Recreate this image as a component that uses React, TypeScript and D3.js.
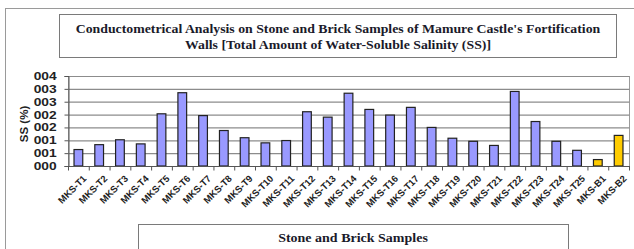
import React, { useRef, useEffect } from 'react';
import * as d3 from 'd3';

const categories = [
  'MKS-T1', 'MKS-T2', 'MKS-T3', 'MKS-T4', 'MKS-T5', 'MKS-T6', 'MKS-T7', 'MKS-T8', 'MKS-T9',
  'MKS-T10', 'MKS-T11', 'MKS-T12', 'MKS-T13', 'MKS-T14', 'MKS-T15', 'MKS-T16', 'MKS-T17',
  'MKS-T18', 'MKS-T19', 'MKS-T20', 'MKS-T21', 'MKS-T22', 'MKS-T23', 'MKS-T24', 'MKS-T25',
  'MKS-B1', 'MKS-B2',
];
const ssValues = [
  0.00064, 0.00083, 0.00102, 0.00086, 0.00203, 0.00285, 0.00196, 0.00138, 0.0011,
  0.0009, 0.00099, 0.00211, 0.0019, 0.00283, 0.0022, 0.00198, 0.00228,
  0.0015, 0.00108, 0.00096, 0.0008, 0.0029, 0.00173, 0.00096, 0.00061,
  0.00025, 0.00119,
];
const brickSamples = ['MKS-B1', 'MKS-B2'];
const yTicks = [0, 0.0005, 0.001, 0.0015, 0.002, 0.0025, 0.003, 0.0035];
const yTickLabels = ['000', '001', '001', '002', '002', '003', '003', '004'];
const titleLines = [
  "Conductometrical Analysis on Stone and Brick Samples of Mamure Castle's Fortification",
  'Walls [Total Amount of Water-Soluble Salinity (SS)]',
];
const xTitle = 'Stone and Brick Samples';
const yTitle = 'SS (%)';

const App = () => {
  const ref = useRef(null);

  useEffect(() => {
    const svg = d3.select(ref.current);
    svg.selectAll('*').remove();

    const plot = { left: 68, right: 629, top: 76, bottom: 166 };

    // outer chart frame
    svg.append('rect')
      .attr('x', 5.5).attr('y', 8.5).attr('width', 700).attr('height', 300)
      .attr('fill', '#fff').attr('stroke', '#9a9a9a');

    // title box
    svg.append('rect')
      .attr('x', 59.5).attr('y', 14.5).attr('width', 557).attr('height', 43)
      .attr('fill', '#fff').attr('stroke', '#7a7a7a');
    svg.append('g').selectAll('text').data(titleLines).join('text')
      .attr('transform', (d, i) => `translate(338,${33 + i * 15.5})scale(1.15,1)`)
      .attr('text-anchor', 'middle')
      .attr('font-family', '"Liberation Serif", serif')
      .attr('font-weight', 'bold').attr('font-size', 12).attr('fill', '#1a1a2a')
      .text(d => d);

    const x = d3.scaleBand().domain(categories).range([plot.left, plot.right])
      .paddingInner(0.58).paddingOuter(0.29);
    const y = d3.scaleLinear().domain([0, 0.0035]).range([plot.bottom, plot.top]);

    // plot area + gridlines
    svg.append('rect')
      .attr('x', plot.left + 0.5).attr('y', plot.top + 0.5)
      .attr('width', plot.right - plot.left).attr('height', plot.bottom - plot.top)
      .attr('fill', '#fff').attr('stroke', '#9a9a9a');
    svg.append('g')
      .attr('transform', `translate(${plot.left + 0.5},0)`)
      .call(d3.axisLeft(y).tickValues(yTicks).tickSize(-(plot.right - plot.left)).tickFormat(() => ''))
      .call(g => g.select('.domain').remove())
      .call(g => g.selectAll('.tick line').attr('stroke', '#8c8c8c').attr('stroke-width', 1.2));

    // bars
    svg.append('g').selectAll('rect').data(categories).join('rect')
      .attr('x', d => x(d))
      .attr('y', (d, i) => y(ssValues[i]))
      .attr('width', x.bandwidth())
      .attr('height', (d, i) => plot.bottom - y(ssValues[i]))
      .attr('fill', d => (brickSamples.includes(d) ? '#ffcc00' : '#9999ff'))
      .attr('stroke', '#222').attr('stroke-width', 1.2);

    // y axis
    const yAxis = svg.append('g')
      .attr('transform', `translate(${plot.left + 0.5},0)`)
      .call(d3.axisLeft(y).tickValues(yTicks).tickSize(4).tickPadding(7)
        .tickFormat((d, i) => yTickLabels[i]));
    yAxis.select('.domain').attr('stroke', '#555');
    yAxis.selectAll('.tick line').attr('stroke', '#555');
    yAxis.selectAll('.tick text')
      .attr('font-family', '"Liberation Sans", Arial, sans-serif')
      .attr('font-weight', 'bold').attr('font-size', 11).attr('fill', '#222')
      .attr('transform', 'scale(1.25,1)').attr('x', -9.5);

    // x axis
    const step = x.step();
    const xAxis = svg.append('g').attr('transform', `translate(0,${plot.bottom + 0.5})`);
    xAxis.append('line')
      .attr('x1', plot.left).attr('x2', plot.right + 1)
      .attr('stroke', '#555');
    xAxis.selectAll('line.t').data(d3.range(categories.length + 1)).join('line')
      .attr('class', 't')
      .attr('x1', i => plot.left + 0.5 + i * step).attr('x2', i => plot.left + 0.5 + i * step)
      .attr('y1', 0).attr('y2', 4).attr('stroke', '#555');
    xAxis.selectAll('text').data(categories).join('text')
      .attr('transform', d => `translate(${x(d) + x.bandwidth() / 2 + 4},${8})rotate(-45)`)
      .attr('text-anchor', 'end').attr('dy', '0.7em')
      .attr('font-family', '"Liberation Sans", Arial, sans-serif')
      .attr('font-weight', 'bold').attr('font-size', 9.5).attr('fill', '#222')
      .text(d => d);

    // y axis title
    svg.append('text')
      .attr('transform', 'translate(28,124)rotate(-90)')
      .attr('text-anchor', 'middle')
      .attr('font-family', '"Liberation Sans", Arial, sans-serif')
      .attr('font-weight', 'bold').attr('font-size', 11.5).attr('fill', '#222')
      .text(yTitle);

    // x axis title box
    svg.append('rect')
      .attr('x', 138.5).attr('y', 224.5).attr('width', 430).attr('height', 40)
      .attr('fill', '#fff').attr('stroke', '#7a7a7a');
    svg.append('text')
      .attr('transform', 'translate(353,242)scale(1.12,1)')
      .attr('text-anchor', 'middle')
      .attr('font-family', '"Liberation Serif", serif')
      .attr('font-weight', 'bold').attr('font-size', 12.5).attr('fill', '#1a1a2a')
      .text(xTitle);
  }, []);

  return (
    <svg
      ref={ref}
      width={634}
      height={249}
      style={{ position: 'absolute', left: 0, top: 0, background: '#fff' }}
    />
  );
};

export default App;
